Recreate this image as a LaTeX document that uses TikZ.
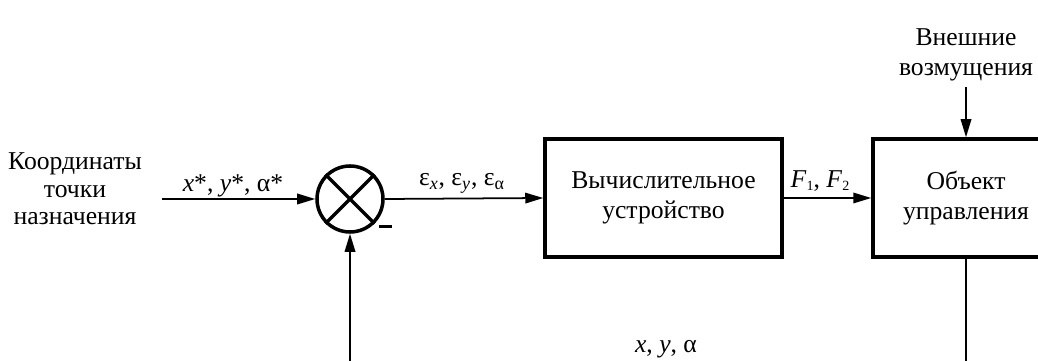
\documentclass[tikz,border=0pt]{standalone}
\usepackage{fontspec}
\setmainfont{Liberation Serif}
\usetikzlibrary{arrows.meta}
\tikzset{
  blok/.style={draw,line width=2pt,minimum width=4.74cm,minimum height=2.36cm,align=center,
    font=\fontsize{14.6}{17}\selectfont},
  sig/.style={line width=1pt,-{Triangle[length=3.6mm,width=2.1mm]}},
  wire/.style={line width=1pt}
}
\newcommand{\lowidx}[1]{\raisebox{-0.3ex}{\fontsize{8}{8}\selectfont #1}}
\begin{document}
\begin{tikzpicture}[x=1cm,y=1cm,every node/.style={font=\fontsize{14.6}{15.6}\selectfont}]
\useasboundingbox (0,0) rectangle (20.76,7.22);
\clip (0,0) rectangle (20.76,7.22);
% blocks
\node[align=center] (goal) at (1.5,3.44) {Координаты\\точки\\назначения};
\coordinate (in) at (3.24,3.24);
\node[draw,circle,line width=2pt,minimum size=1.32cm,inner sep=0pt] (sum) at (7.0,3.24) {};
\draw[line width=2pt] (sum.north west) -- (sum.south east) (sum.north east) -- (sum.south west);
\node[blok] (calc) at (13.27,3.26) {Вычислительное\\устройство};
\node[blok,minimum width=3.72cm] (obj) at (19.32,3.26) {Объект\\управления};
\node[align=center,font=\fontsize{14.6}{17}\selectfont] (dist) at (19.32,6.12) {Внешние\\возмущения};
% signals
\draw[sig] (in) -- (sum.west);
\draw[sig] (sum.east) -- (calc.west);
\draw[sig] (calc.east) -- (obj.west);
\draw[sig] (dist.south) -- (obj.north);
\coordinate (fb) at (7.0,0);
\coordinate (out) at (19.32,0);
\draw[sig] (fb) -- (sum.south);
\draw[wire] (obj.south) -- (out);
% labels
\node (ref) at (4.66,3.5) {\textit{x}*, \textit{y}*, α*};
\node (err) at (9.24,3.56) {ε\textsubscript{\textit{x}}, ε\textsubscript{\textit{y}}, ε\textsubscript{α}};
\node (force) at (16.4,3.6) {\textit{F}\lowidx{1}, \textit{F}\lowidx{2}};
\node[inner sep=0pt] (minus) at (7.7,2.68) {\rule{0.26cm}{0.06cm}};
\node (state) at (13.32,0.24) {\textit{x}, \textit{y}, α};
\end{tikzpicture}
\end{document}
